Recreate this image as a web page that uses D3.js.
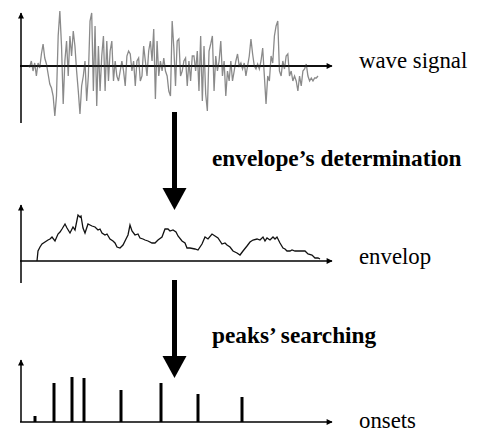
<!DOCTYPE html>
<html>
<head>
<meta charset="utf-8">
<script src="https://cdn.jsdelivr.net/npm/d3@7"></script>
<style>
body{margin:0;background:#fff}
</style>
</head>
<body>
<svg id="chart"></svg>
<script>
// raw wave samples (uniform spacing), amplitude
var waveValues=[0,-1,5,-5,3,-10,3,-2,12,22,8,2,-8,-18,-22,-30,-50,-30,30,55,20,-38,5,25,-10,30,10,35,20,-5,-25,-48,-20,-10,5,-35,-10,45,53,-25,40,-40,20,-25,10,30,-25,25,-15,15,25,-15,5,-10,
-15,-5,5,-5,-20,10,15,12,-5,5,-20,5,8,-15,-10,20,5,-10,15,25,5,37,-33,25,-10,5,-5,8,-5,-10,-25,-30,45,18,-20,25,27,-10,-5,5,8,-20,5,-15,10,10,-5,15,-25,30,-35,20,-28,-45,15,22,30,-25,10,-5,5,
25,-10,5,-30,-5,-15,5,-15,-5,5,12,0,3,-3,3,-10,0,10,27,12,0,-3,2,-3,5,18,-10,-38,-10,-15,10,3,30,40,45,-5,-10,5,-3,10,12,-10,-5,-15,-10,-15,-25,-10,-20,-5,-3,2,-10,-15,-12,-15,-12,-12,-10];
var waveStart=8, waveEnd=298;

// envelope: frame, level
var envFrames=[17,18,20,22,25,28,30,32,35,38,40,42,45,47,50,53,55,58,60,61,63,65,68,70,72,75,78,80,82,85,87,90,93,95,97,100,103,106,108,110,112,115,118,120,123,125,128,132,135,138,142,145,148,150,153,156,158,162,165,167,170,175,178,182,185,188,192,195,198,202,205,207,210,213,217,220,223,227,230,233,237,240,243,245,247,250,253,255,257,260,263,265,267,270,272,275,278,282,285,288,292,295,298,300];
var envValues=[0,10,14,17,19,21,22,24,20,27,29,32,37,33,28,34,31,46,44,45,33,28,37,36,35,34,31,32,28,26,27,22,20,18,14,13,16,22,26,36,30,26,27,23,22,21,20,18,18,21,24,32,32,30,31,29,25,20,18,13,13,12,11,17,24,22,27,25,23,17,18,16,14,10,8,6,10,15,19,21,22,21,24,20,23,21,24,22,24,18,13,12,10,10,11,10,10,10,10,7,6,3,3,2];

// onsets: frame, strength
var onsetFrames=[15,34,52,64,101,141,178,222];
var onsetValues=[6,39,45,44,32,39,28,25];

var labels=["wave signal","envelop","onsets"];
var steps=["envelope\u2019s determination","peaks\u2019 searching"];

var W=478,H=433;
var svg=d3.select("#chart").attr("width",W).attr("height",H)
 .attr("font-family","'Liberation Serif','Times New Roman',serif");

var x=d3.scaleLinear().domain([0,310]).range([20,330]);

var panels=[
 {axisY:66, top:13, bottom:123, label:labels[0], labelY:68},
 {axisY:261, top:205, bottom:283, label:labels[1], labelY:264},
 {axisY:422, top:360, bottom:422, label:labels[2], labelY:428}
];

// arrow heads
var defs=svg.append("defs");
defs.append("marker").attr("id","ah").attr("viewBox","0 0 10 10")
 .attr("refX",9).attr("refY",5).attr("markerWidth",7).attr("markerHeight",6)
 .attr("markerUnits","userSpaceOnUse").attr("orient","auto")
 .append("path").attr("d","M0,0L10,5L0,10Z").attr("fill","#000");

panels.forEach(function(p){
 var g=svg.append("g");
 g.append("line").attr("x1",x(0)+1).attr("x2",x(0)+1).attr("y1",p.bottom).attr("y2",p.top)
  .attr("stroke","#000").attr("stroke-width",1.5).attr("marker-end","url(#ah)");
 g.append("line").attr("x1",x(0)).attr("x2",x(312)).attr("y1",p.axisY).attr("y2",p.axisY)
  .attr("stroke","#000").attr("stroke-width",1.5).attr("marker-end","url(#ah)");
 g.append("text").attr("x",359).attr("y",p.labelY).attr("font-size",22.8).text(p.label);
});

// wave
var yWave=d3.scaleLinear().domain([0,1]).range([panels[0].axisY,panels[0].axisY-1]);
var xWave=d3.scaleLinear().domain([0,waveValues.length-1]).range([x(waveStart),x(waveEnd)]);
svg.append("path").datum(waveValues)
 .attr("d",d3.line().x(function(d,i){return xWave(i)}).y(function(d){return yWave(d)}))
 .attr("fill","none").attr("stroke","#8a8a8a").attr("stroke-width",1.3);
// redraw axis on top
svg.append("line").attr("x1",x(0)).attr("x2",x(310)).attr("y1",panels[0].axisY).attr("y2",panels[0].axisY)
 .attr("stroke","#000").attr("stroke-width",1.5);

// envelope
var yEnv=d3.scaleLinear().domain([0,1]).range([panels[1].axisY,panels[1].axisY-1]);
svg.append("path").datum(envFrames)
 .attr("d",d3.line().x(function(d){return x(d)}).y(function(d,i){return yEnv(envValues[i])}))
 .attr("fill","none").attr("stroke","#111").attr("stroke-width",1.3);

// onsets
var yOn=d3.scaleLinear().domain([0,1]).range([panels[2].axisY,panels[2].axisY-1]);
svg.selectAll(".onset").data(onsetFrames).enter().append("line").attr("class","onset")
 .attr("x1",function(d){return x(d)}).attr("x2",function(d){return x(d)})
 .attr("y1",yOn(0)).attr("y2",function(d,i){return yOn(onsetValues[i])})
 .attr("stroke","#000").attr("stroke-width",3);

// big process arrows
var arrows=[{y0:112,y1:210,text:steps[0],ty:166},{y0:280,y1:378,text:steps[1],ty:343}];
arrows.forEach(function(a){
 var cx=174.5;
 svg.append("rect").attr("x",cx-2.5).attr("y",a.y0).attr("width",5).attr("height",a.y1-a.y0-20);
 svg.append("path").attr("d","M"+(cx-12)+","+(a.y1-22)+"L"+(cx+12)+","+(a.y1-22)+"L"+cx+","+a.y1+"Z").attr("fill","#000");
 svg.append("text").attr("x",212).attr("y",a.ty).attr("font-size",23.3).attr("font-weight","bold").text(a.text);
});
</script>
</body>
</html>
